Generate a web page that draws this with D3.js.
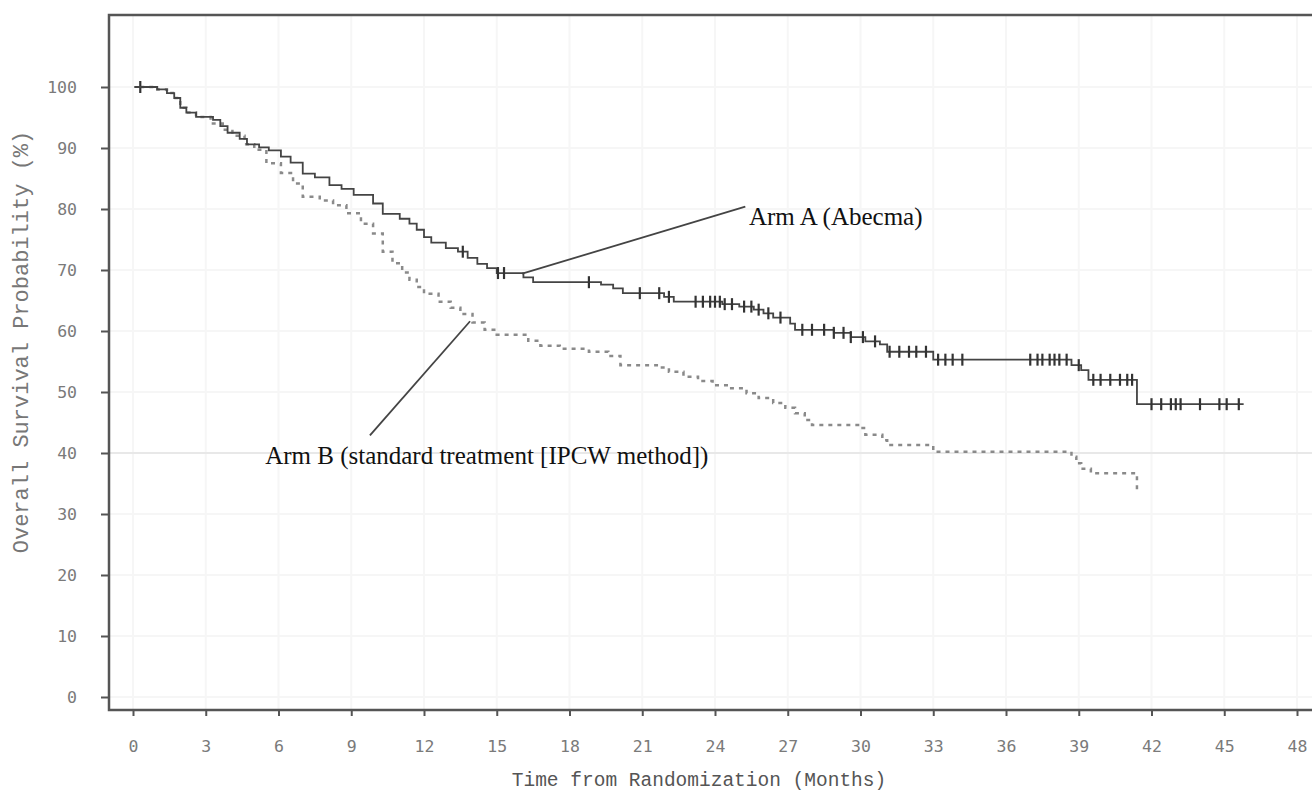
<!DOCTYPE html>
<html>
<head>
<meta charset="utf-8">
<script src="https://cdn.jsdelivr.net/npm/d3@7/dist/d3.min.js"></script>
<style>
    body { margin: 0; background: #fff; }
    .tick text { font-family: "DejaVu Sans Mono", monospace; font-size: 16.5px; fill: #7a7a7a; }
    .tick line { stroke: #555; stroke-width: 2; }
    .axisTitle { font-family: "Liberation Mono", "Courier New", monospace; font-size: 19.5px; fill: #555; }
    .yTitle { font-size: 22px; fill: #777; }
    .armLabel { font-family: "Liberation Serif", "Times New Roman", serif; font-size: 25px; fill: #111; }
</style>
</head>
<body>
<script>
//tick labels
var xTicks = [0, 3, 6, 9, 12, 15, 18, 21, 24, 27, 30, 33, 36, 39, 42, 45, 48];
var yTicks = [0, 10, 20, 30, 40, 50, 60, 70, 80, 90, 100];

//Arm A (Abecma) steps: [month, survival %] value after each drop
var armATimes = [0.3, 1.0, 1.4, 1.7, 1.95, 2.2, 2.6, 3.3, 3.6, 3.9, 4.4, 4.7, 5.2, 5.6, 6.1, 6.5, 7.0, 7.5, 8.1, 8.6, 9.1, 9.9, 10.3, 11.0, 11.4, 11.7, 12.0, 12.3, 12.9, 13.4, 13.8, 14.2, 14.6, 15.0, 16.1, 16.5, 19.3, 19.8, 20.2, 21.9, 22.3, 24.3, 25.0, 25.6, 26.0, 26.4, 27.1, 27.3, 28.9, 29.6, 30.2, 30.8, 31.1, 33.0, 38.7, 39.1, 39.4, 41.4];
var armASurv  = [100, 99.6, 99, 98.2, 96.6, 95.8, 95.1, 94.6, 93.6, 92.5, 91.5, 90.6, 90.1, 89.6, 88.6, 87.6, 85.8, 85.2, 83.9, 83.3, 82.3, 80.9, 79.2, 78.4, 77.6, 76.6, 75.4, 74.5, 73.6, 73, 72, 71, 70.3, 69.5, 68.8, 68, 67.6, 67, 66.2, 65.6, 64.8, 64.4, 64, 63.5, 62.9, 62.2, 61.2, 60.2, 59.7, 59.0, 58.3, 57.8, 56.6, 55.3, 54.4, 53.6, 52, 48];
var armAEnd = 45.8;
var armACensor = [0.3, 13.6, 15.05, 15.3, 18.8, 20.9, 21.7, 22.1, 23.2, 23.5, 23.8, 24.0, 24.2, 24.4, 24.7, 25.2, 25.5, 25.8, 26.2, 26.7, 27.6, 28.0, 28.5, 28.9, 29.3, 29.6, 30.1, 30.6, 31.2, 31.6, 32.0, 32.3, 32.7, 33.2, 33.5, 33.8, 34.2, 37.0, 37.3, 37.5, 37.8, 38.0, 38.2, 38.5, 39.0, 39.6, 39.9, 40.3, 40.7, 41.0, 41.2, 42.0, 42.4, 42.8, 43.0, 43.2, 44.0, 44.8, 45.1, 45.6];

//Arm B (standard treatment [IPCW method]) steps
var armBTimes = [0.3, 1.0, 1.4, 1.7, 1.95, 2.2, 2.6, 3.2, 3.7, 4.1, 4.6, 5.0, 5.5, 6.1, 6.6, 7.0, 7.7, 8.25, 8.8, 9.4, 9.9, 10.3, 10.7, 11.1, 11.4, 11.7, 12.0, 12.6, 13.1, 13.5, 14.0, 14.5, 15.0, 16.3, 16.8, 17.6, 18.8, 19.6, 20.1, 21.6, 22.1, 22.7, 23.3, 23.9, 24.6, 25.3, 25.8, 26.4, 26.9, 27.3, 27.7, 28.0, 29.9, 30.2, 30.9, 31.1, 33.0, 38.7, 38.9, 39.1, 39.5, 41.4];
var armBSurv  = [100, 99.6, 99, 98.2, 96.6, 95.8, 95.1, 94.0, 93.0, 92.0, 90.6, 89.7, 87.5, 85.9, 84.2, 82.0, 81.4, 80.6, 79.3, 77.6, 76.0, 73.0, 71.1, 69.6, 68.4, 67.2, 66.1, 64.8, 63.8, 62.8, 61.4, 60.2, 59.4, 58.4, 57.6, 57.1, 56.6, 55.9, 54.4, 54, 53.3, 52.5, 51.8, 51.1, 50.6, 49.8, 49, 48.2, 47.4, 46.5, 45.4, 44.6, 44.1, 43, 42.1, 41.3, 40.2, 39.4, 38.3, 37.4, 36.7, 34.0];
var armBEnd = 41.45;

window.onload = function () {
    var w = 1312, h = 796;

    var svg = d3.select("body")
        .append("svg")
        .attr("width", w)
        .attr("height", h);

    //plot frame edges
    var left = 109, top = 15, bottom = 710;

    var x = d3.scaleLinear()
        .domain([0, 48])
        .range([133, 1297]);

    var y = d3.scaleLinear()
        .domain([0, 100])
        .range([697, 87]);

    //faint gridlines
    svg.selectAll(".vgrid")
        .data(xTicks)
        .enter()
        .append("line")
        .attr("x1", function (d) { return x(d); })
        .attr("x2", function (d) { return x(d); })
        .attr("y1", top)
        .attr("y2", bottom)
        .style("stroke", "#f6f6f6")
        .style("stroke-width", 2);

    svg.selectAll(".hgrid")
        .data(yTicks)
        .enter()
        .append("line")
        .attr("x1", left)
        .attr("x2", w)
        .attr("y1", function (d) { return y(d); })
        .attr("y2", function (d) { return y(d); })
        .style("stroke", function (d) { return d == 40 ? "#e8e8e8" : "#f6f6f6"; })
        .style("stroke-width", 2);

    //axes
    var xAxis = svg.append("g")
        .attr("transform", "translate(0," + bottom + ")")
        .call(d3.axisBottom(x).tickValues(xTicks).tickSize(6).tickPadding(24));
    xAxis.select(".domain").remove();

    var yAxis = svg.append("g")
        .attr("transform", "translate(" + left + ",0)")
        .call(d3.axisLeft(y).tickValues(yTicks).tickSize(8).tickPadding(24));
    yAxis.select(".domain").remove();

    //frame lines
    svg.append("path")
        .attr("d", "M" + w + "," + top + "H" + left + "V" + bottom + "H" + w)
        .style("fill", "none")
        .style("stroke", "#555")
        .style("stroke-width", 2.5);

    //build step data
    function steps(times, surv, end) {
        var pts = times.map(function (t, i) { return [t, surv[i]]; });
        pts.push([end, surv[surv.length - 1]]);
        return pts;
    }

    function survAt(times, surv, t) {
        var s = surv[0];
        for (var i = 0; i < times.length; i++) {
            if (times[i] <= t) s = surv[i];
        }
        return s;
    }

    var line = d3.line()
        .x(function (d) { return x(d[0]); })
        .y(function (d) { return y(d[1]); })
        .curve(d3.curveStepAfter);

    //Arm B dashed
    svg.append("path")
        .datum(steps(armBTimes, armBSurv, armBEnd))
        .attr("d", line)
        .style("fill", "none")
        .style("stroke", "#8a8a8a")
        .style("stroke-width", 2.5)
        .style("stroke-dasharray", "4,5");

    //Arm A solid
    svg.append("path")
        .datum(steps(armATimes, armASurv, armAEnd))
        .attr("d", line)
        .style("fill", "none")
        .style("stroke", "#444")
        .style("stroke-width", 1.8);

    //censor marks
    svg.selectAll(".censor")
        .data(armACensor)
        .enter()
        .append("line")
        .attr("class", "censor")
        .attr("x1", function (d) { return x(d); })
        .attr("x2", function (d) { return x(d); })
        .attr("y1", function (d) { return y(survAt(armATimes, armASurv, d)) - 6; })
        .attr("y2", function (d) { return y(survAt(armATimes, armASurv, d)) + 6; })
        .style("stroke", "#333")
        .style("stroke-width", 2.2);

    //start cross mark
    svg.append("line")
        .attr("x1", x(0.3) - 6).attr("x2", x(0.3) + 6)
        .attr("y1", y(100)).attr("y2", y(100))
        .style("stroke", "#444").style("stroke-width", 2);

    //axis titles
    svg.append("text")
        .attr("class", "axisTitle")
        .attr("text-anchor", "middle")
        .attr("x", 699)
        .attr("y", 786)
        .text("Time from Randomization (Months)");

    svg.append("text")
        .attr("class", "axisTitle yTitle")
        .attr("text-anchor", "middle")
        .attr("transform", "translate(28,342) rotate(-90)")
        .text("Overall Survival Probability (%)");

    //arm labels with leader lines
    svg.append("line")
        .attr("x1", x(16.05)).attr("y1", y(69.4))
        .attr("x2", x(25.25)).attr("y2", y(80.4))
        .style("stroke", "#444").style("stroke-width", 1.8);

    svg.append("text")
        .attr("class", "armLabel")
        .attr("x", x(25.4))
        .attr("y", y(77.4))
        .text("Arm A (Abecma)");

    svg.append("line")
        .attr("x1", x(13.9)).attr("y1", y(61.6))
        .attr("x2", x(9.77)).attr("y2", y(42.9))
        .style("stroke", "#444").style("stroke-width", 1.8);

    svg.append("text")
        .attr("class", "armLabel")
        .attr("x", x(5.45))
        .attr("y", y(38.2))
        .text("Arm B (standard treatment [IPCW method])");
};
</script>
</body>
</html>
